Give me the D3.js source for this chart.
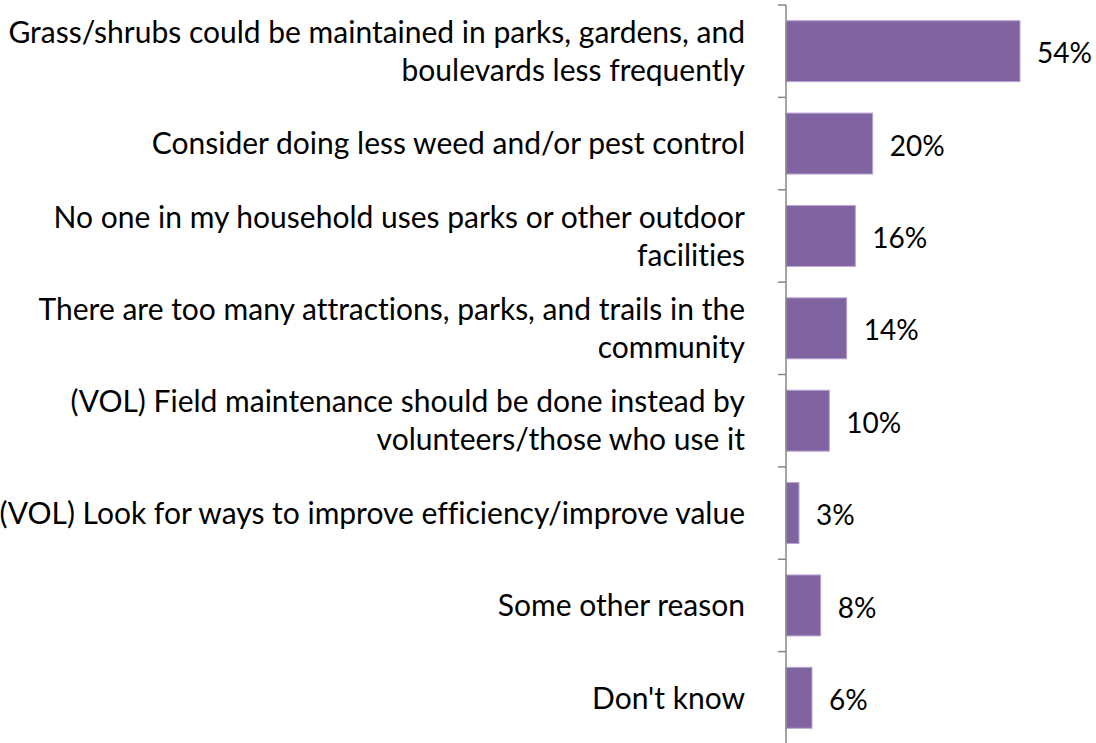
<!DOCTYPE html>
<html><head><meta charset="utf-8">
<script src="https://cdn.jsdelivr.net/npm/d3@7"></script>
<style>body{margin:0;background:#fff}svg{display:block}text{font-family:Lato,"Open Sans",sans-serif;fill:#000;font-variant-ligatures:none;font-feature-settings:"liga" 0}</style>
</head><body>
<svg id="c" width="1096" height="743"></svg>
<script>
const categories = [
  ["Grass/shrubs could be maintained in parks, gardens, and","boulevards less frequently"],
  ["Consider doing less weed and/or pest control"],
  ["No one in my household uses parks or other outdoor","facilities"],
  ["There are too many attractions, parks, and trails in the","community"],
  ["(VOL) Field maintenance should be done instead by","volunteers/those who use it"],
  ["(VOL) Look for ways to improve efficiency/improve value"],
  ["Some other reason"],
  ["Don't know"]
];
const values = [54, 20, 16, 14, 10, 3, 8, 6];
const valueLabels = ["54%","20%","16%","14%","10%","3%","8%","6%"];

(function(){
const svg = d3.select("#c");
const x0 = 786, yTop = 5, yBot = 744;
const fs = 30, fsv = 28;
const x = d3.scaleLinear().domain([0, 60]).range([x0, x0 + 260]);
const y = d3.scaleBand().domain(d3.range(categories.length)).range([yTop, yBot]).paddingInner(0.34).paddingOuter(0.17);

svg.selectAll("rect.bar").data(values).join("rect").attr("class","bar")
  .attr("x", x(0)).attr("y", (d,i)=>y(i))
  .attr("width", d=>x(d)-x(0)).attr("height", y.bandwidth())
  .attr("fill", "#8064A2").attr("stroke", "#b9a6d0").attr("stroke-width", 1);

const g = svg.append("g");
g.append("line").attr("x1", x0).attr("x2", x0).attr("y1", yTop).attr("y2", yBot)
  .attr("stroke", "#868686").attr("stroke-width", 1.5);
d3.range(categories.length + 1).forEach(i => {
  const yy = yTop + i * (yBot - yTop) / categories.length;
  g.append("line").attr("x1", x0 - 8).attr("x2", x0).attr("y1", yy).attr("y2", yy)
    .attr("stroke", "#868686").attr("stroke-width", 1.5);
});

const lh = 38;
categories.forEach((lines, i) => {
  const cy = y(i) + y.bandwidth() / 2;
  const t = svg.append("text").attr("text-anchor", "end").attr("font-size", fs);
  lines.forEach((ln, j) => {
    const off = (j - (lines.length - 1) / 2) * lh;
    t.append("tspan").attr("x", 745).attr("y", cy + off + fs * 0.36).text(ln);
  });
});

svg.selectAll("text.val").data(values).join("text").attr("class","val")
  .attr("x", d => x(d) + 17).attr("y", (d,i)=> y(i) + y.bandwidth()/2 + fsv*0.36 + 2)
  .attr("font-size", fsv).text((d,i)=>valueLabels[i]);
})();
</script>
</body></html>
